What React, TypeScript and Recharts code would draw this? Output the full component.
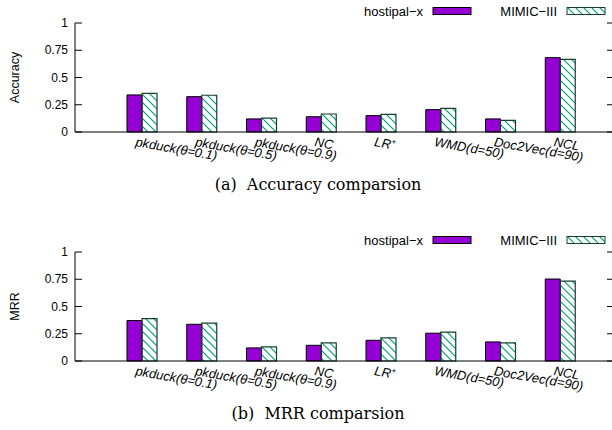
import React from 'react';
import { BarChart, Bar, XAxis, YAxis, Legend } from 'recharts';

const categories = [
  'pkduck(θ=0.1)', 'pkduck(θ=0.5)', 'pkduck(θ=0.9)', 'NC',
  'LR⁺', 'WMD(d=50)', 'Doc2Vec(d=90)', 'NCL'
];
const accHospital = [0.34, 0.324, 0.12, 0.14, 0.15, 0.205, 0.12, 0.682];
const accMimic = [0.355, 0.337, 0.128, 0.165, 0.162, 0.217, 0.107, 0.667];
const mrrHospital = [0.371, 0.337, 0.12, 0.144, 0.19, 0.255, 0.175, 0.752];
const mrrMimic = [0.389, 0.347, 0.129, 0.166, 0.212, 0.264, 0.166, 0.733];
const yTicks = [0, 0.25, 0.5, 0.75, 1];
const seriesOrder = ['hospital', 'mimic'];

const CHART_W = 640;
const CHART_H = 200;
const PLOT_L = 75;
const PLOT_R = 614;
const SANS = '"Liberation Sans", Arial, sans-serif';
const PURPLE = '#9400d3';
const HATCH = '#00a07a';
const HATCH_BORDER = '#17402c';

const buildRows = (a: number[], b: number[]) =>
  categories.map((name, i) => ({ name, hospital: a[i], mimic: b[i] }));

const YTick = (props: any) => {
  const { y, payload } = props;
  return (
    <g>
      <text x={PLOT_L - 7} y={y} dy="0.35em" textAnchor="end" fontSize={12} fontFamily={SANS} fill="#000">
        {String(payload.value)}
      </text>
      <line x1={PLOT_L} x2={PLOT_L + 7} y1={y} y2={y} stroke="#000" />
      <line x1={PLOT_R - 7} x2={PLOT_R} y1={y} y2={y} stroke="#000" />
    </g>
  );
};

const XTick = (props: any) => {
  const { x, y, payload } = props;
  const tx = x - 7;
  const ty = y + 14;
  const label: string = payload.value;
  const sup = label.endsWith('⁺');
  return (
    <text
      x={tx}
      y={ty}
      transform={`rotate(10, ${tx}, ${ty})`}
      fontSize={13}
      fontStyle="italic"
      fontFamily={SANS}
      fill="#000"
    >
      {sup ? (
        <>
          {label.slice(0, -1)}
          <tspan dy={-5} fontSize={8}>+</tspan>
        </>
      ) : label}
    </text>
  );
};

const LegendContent = (props: any) => {
  const items = [...(props.payload || [])].sort(
    (a: any, b: any) => seriesOrder.indexOf(a.dataKey) - seriesOrder.indexOf(b.dataKey)
  );
  return (
    <svg width={CHART_W} height={22} style={{ display: 'block' }}>
      <defs>
        <pattern id="hatchLegend" patternUnits="userSpaceOnUse" width={8} height={8}>
          <path d="M0,0 L8,8 M-2,6 L2,10 M6,-2 L10,2" stroke={HATCH} strokeWidth={1.2} />
        </pattern>
      </defs>
      {items.map((it: any, i: number) => {
        const textEnd = 423 + i * 134;
        const hatched = it.dataKey === 'mimic';
        return (
          <g key={it.value}>
            <text x={textEnd} y={11} dy="0.35em" textAnchor="end" fontSize={13} fontFamily={SANS} fill="#000">
              {it.value}
            </text>
            <rect
              x={textEnd + 10}
              y={7.5}
              width={38}
              height={7}
              fill={hatched ? 'url(#hatchLegend)' : PURPLE}
              stroke={hatched ? HATCH_BORDER : '#000'}
              strokeWidth={1}
            />
          </g>
        );
      })}
    </svg>
  );
};

interface PanelProps {
  top: number;
  rows: any[];
  yLabel: string;
  caption: string;
  id: string;
}

const Panel: React.FC<PanelProps> = ({ top, rows, yLabel, caption, id }) => (
  <div style={{ position: 'absolute', left: 0, top, width: CHART_W, height: CHART_H }}>
    <BarChart
      width={CHART_W}
      height={CHART_H}
      data={rows}
      margin={{ top: 23, right: CHART_W - PLOT_R, bottom: 0, left: 0 }}
      barGap={0}
    >
      <defs>
        <pattern id={`hatch-${id}`} patternUnits="userSpaceOnUse" width={8} height={8}>
          <path d="M0,0 L8,8 M-2,6 L2,10 M6,-2 L10,2" stroke={HATCH} strokeWidth={1.2} />
        </pattern>
      </defs>
      <XAxis
        dataKey="name"
        interval={0}
        height={68}
        padding={{ left: 37, right: 24 }}
        tickLine={false}
        tickSize={0}
        tickMargin={0}
        axisLine={{ stroke: '#000' }}
        tick={<XTick />}
      />
      <XAxis xAxisId="top" orientation="top" dataKey="name" height={0} tick={false} tickLine={false} axisLine={{ stroke: '#000' }} />
      <YAxis
        width={PLOT_L}
        domain={[0, 1]}
        ticks={yTicks}
        tickLine={false}
        tickSize={0}
        tickMargin={0}
        axisLine={{ stroke: '#000' }}
        tick={<YTick />}
        label={(p: any) => {
          const vb = p.viewBox || { y: 23, height: 109 };
          const cy = vb.y + vb.height / 2;
          return (
            <text x={15} y={cy} dy="0.35em" textAnchor="middle" transform={`rotate(-90, 15, ${cy})`} fontSize={12.5} fontFamily={SANS} fill="#000">
              {yLabel}
            </text>
          );
        }}
      />
      <YAxis yAxisId="right" orientation="right" width={0} domain={[0, 1]} tick={false} tickLine={false} axisLine={{ stroke: '#000' }} />
      <Legend
        layout="horizontal"
        verticalAlign="middle"
        align="center"
        wrapperStyle={{ top: 0, left: 0, width: CHART_W, height: 22 }}
        content={<LegendContent />}
      />
      <Bar dataKey="hospital" name="hostipal−x" barSize={15} fill={PURPLE} stroke="#000" strokeWidth={1} isAnimationActive={false} />
      <Bar dataKey="mimic" name="MIMIC−III" barSize={15} fill={`url(#hatch-${id})`} stroke={HATCH_BORDER} strokeWidth={1.2} isAnimationActive={false} />
    </BarChart>
    <div
      style={{
        position: 'absolute',
        left: 118,
        width: 400,
        top: 175,
        textAlign: 'center',
        fontFamily: '"DejaVu Serif", serif',
        fontSize: 16,
        whiteSpace: 'pre',
        color: '#000',
      }}
    >
      {caption}
    </div>
  </div>
);

export default function App() {
  return (
    <div style={{ position: 'absolute', left: 0, top: 0, width: 612, height: 430, overflow: 'hidden', background: '#fff' }}>
      <Panel top={0} id="acc" rows={buildRows(accHospital, accMimic)} yLabel="Accuracy" caption="(a)  Accuracy comparsion" />
      <Panel top={229} id="mrr" rows={buildRows(mrrHospital, mrrMimic)} yLabel="MRR" caption="(b)  MRR comparsion" />
    </div>
  );
}
